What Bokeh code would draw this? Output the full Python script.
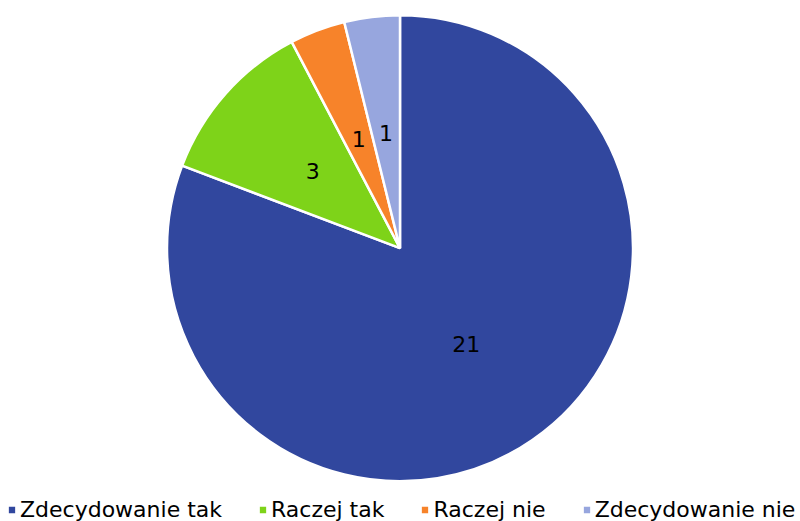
import math
from bokeh.plotting import figure
from bokeh.models import ColumnDataSource, Range1d, Legend, LegendItem
from bokeh.core.properties import value
from bokeh.embed import file_html
from bokeh.resources import INLINE

# ---- data ----
categories = ["Zdecydowanie tak", "Raczej tak", "Raczej nie", "Zdecydowanie nie"]
counts = [21, 3, 1, 1]
colors = ["#31479E", "#7ED319", "#F7832A", "#97A6DE"]

# ---- layout ----
W, H = 800, 521
CX, CY = 399.5, H - 247.7
R = 233
LABEL_FRAC = 0.5
FONT = "DejaVu Sans"

total = sum(counts)
starts, ends, lx, ly = [], [], [], []
cum = 0
for c in counts:
    a0 = math.pi / 2 - 2 * math.pi * cum / total
    a1 = math.pi / 2 - 2 * math.pi * (cum + c) / total
    mid = (a0 + a1) / 2
    starts.append(a0)
    ends.append(a1)
    lx.append(CX + LABEL_FRAC * R * math.cos(mid))
    ly.append(CY + LABEL_FRAC * R * math.sin(mid))
    cum += c

src = ColumnDataSource(dict(cat=categories, val=counts, color=colors,
                            start=starts, end=ends, lx=lx, ly=ly,
                            txt=[str(v) for v in counts]))

p = figure(width=W, height=H, x_range=Range1d(0, W), y_range=Range1d(0, H),
           output_backend="svg", toolbar_location=None, min_border=0)
p.axis.visible = False
p.grid.visible = False
p.outline_line_color = None
p.background_fill_color = "white"
p.border_fill_color = "white"

wedges = p.wedge(x=CX, y=CY, radius=R, start_angle="start", end_angle="end",
                 direction="clock", fill_color="color", line_color="white",
                 line_width=2.5, source=src)

p.text(x="lx", y="ly", text="txt", source=src, text_align="center",
       text_baseline="middle", text_font=value(FONT), text_font_size="22px",
       text_color="black")

legend = Legend(items=[LegendItem(label=categories[i], renderers=[wedges], index=i)
                       for i in range(len(categories))],
                orientation="horizontal", location=(6, -1),
                glyph_width=11, glyph_height=11, label_standoff=3, spacing=35,
                padding=0, margin=0, border_line_color=None,
                background_fill_alpha=0, label_text_font=FONT,
                label_text_font_size="22px", label_text_color="black",
                label_height=16)
p.add_layout(legend, "center")

open("out.html", "w").write(file_html(p, INLINE))
